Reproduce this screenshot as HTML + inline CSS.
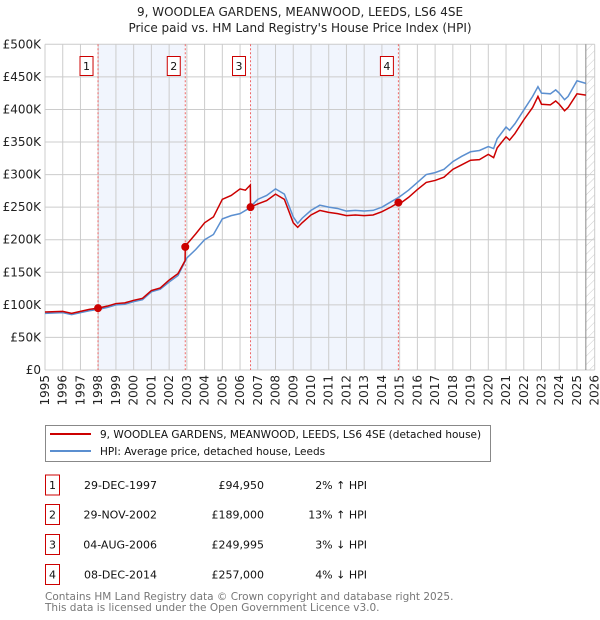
<!DOCTYPE html>
<html><head><meta charset="utf-8"><style>
body{margin:0;background:#fff;width:600px;height:620px;overflow:hidden}
svg{display:block;font-family:"DejaVu Sans","Liberation Sans",sans-serif}
</style></head><body>
<svg id="chart" width="600" height="620" xmlns="http://www.w3.org/2000/svg">
<defs><pattern id="hatch" width="6" height="6" patternUnits="userSpaceOnUse" patternTransform="rotate(45)"><line x1="0" y1="0" x2="0" y2="6" stroke="#ccc" stroke-width="1"/></pattern></defs>
<text x="300" y="16" text-anchor="middle" font-size="12" fill="#222">9, WOODLEA GARDENS, MEANWOOD, LEEDS, LS6 4SE</text>
<text x="300" y="32" text-anchor="middle" font-size="12" fill="#222">Price paid vs. HM Land Registry's House Price Index (HPI)</text>
<g id="plot"></g>
<g>
<rect x="45.5" y="425.5" width="445" height="36" fill="#fff" stroke="#888"/>
<line x1="50" y1="434" x2="91" y2="434" stroke="#cc0000" stroke-width="2"/>
<text x="100" y="438" font-size="10.5" fill="#111">9, WOODLEA GARDENS, MEANWOOD, LEEDS, LS6 4SE (detached house)</text>
<line x1="50" y1="451" x2="91" y2="451" stroke="#5b8fd0" stroke-width="2"/>
<text x="100" y="455" font-size="10.5" fill="#111">HPI: Average price, detached house, Leeds</text>
</g>
<g id="table" font-size="11" fill="#111"></g>
<text x="45" y="600" font-size="10.5" fill="#777">Contains HM Land Registry data © Crown copyright and database right 2025.</text>
<text x="45" y="611" font-size="10.5" fill="#777">This data is licensed under the Open Government Licence v3.0.</text>
</svg>
<script>
const hpiDates=[1995,1996,1996.5,1997,1997.5,1998,1998.5,1999,1999.5,2000,2000.5,2001,2001.5,2002,2002.5,2003,2003.5,2004,2004.5,2005,2005.5,2006,2006.5,2007,2007.5,2008,2008.5,2009,2009.25,2009.5,2010,2010.5,2011,2011.5,2012,2012.5,2013,2013.5,2014,2014.5,2015,2015.5,2016,2016.5,2017,2017.5,2018,2018.5,2019,2019.5,2020,2020.3,2020.5,2021,2021.2,2021.5,2022,2022.5,2022.8,2023,2023.5,2023.8,2024,2024.3,2024.5,2025,2025.5];
const hpiValues=[87,88,85,88,91,93,96,100,101,105,108,120,124,135,145,172,185,200,208,232,237,240,248,262,268,278,270,235,225,233,245,253,250,248,244,245,244,245,250,258,266,276,288,300,303,308,320,328,335,337,343,340,355,373,368,378,399,420,435,425,424,430,425,415,420,444,440];
const ppDates=[1995,1996,1996.5,1997,1997.5,1998,1998.5,1999,1999.5,2000,2000.5,2001,2001.5,2002,2002.5,2002.9,2002.91,2003,2003.5,2004,2004.5,2005,2005.5,2006,2006.3,2006.58,2006.59,2007,2007.5,2008,2008.5,2009,2009.25,2009.5,2010,2010.5,2011,2011.5,2012,2012.5,2013,2013.5,2014,2014.5,2014.93,2015,2015.5,2016,2016.5,2017,2017.5,2018,2018.5,2019,2019.5,2020,2020.3,2020.5,2021,2021.2,2021.5,2022,2022.5,2022.8,2023,2023.5,2023.8,2024,2024.3,2024.5,2025,2025.5];
const ppValues=[89,90,87,90,93,95,98,102,103,107,110,122,126,138,148,168,189,193,209,226,235,262,268,278,276,284,250,255,260,270,262,226,219,226,238,245,242,240,237,238,237,238,243,250,257,255,265,277,288,291,296,308,315,322,323,331,326,341,358,353,363,384,403,420,408,407,413,408,398,403,424,422];
const saleLabels=["1","2","3","4"];
const saleDates=[1997.99,2002.91,2006.59,2014.93];
const salePrices=[94950,189000,249995,257000];
const saleDateText=["29-DEC-1997","29-NOV-2002","04-AUG-2006","08-DEC-2014"];
const salePriceText=["£94,950","£189,000","£249,995","£257,000"];
const saleDiffText=["2% ↑ HPI","13% ↑ HPI","3% ↓ HPI","4% ↓ HPI"];
const yTicks=[0,50,100,150,200,250,300,350,400,450,500];
const yTickLabels=["£0","£50K","£100K","£150K","£200K","£250K","£300K","£350K","£400K","£450K","£500K"];
const xYears=[];for(let y=1995;y<=2026;y++)xYears.push(y);

const X0=45,X1=594.7,Y0=370,Y1=44.3;
const xs=t=>X0+(t-1995)/31*(X1-X0);
const ys=v=>Y0-v/500*(Y0-Y1);
const NS="http://www.w3.org/2000/svg";
const plot=document.getElementById('plot');
function mk(tag,attrs,parent){const e=document.createElementNS(NS,tag);for(const k in attrs)e.setAttribute(k,attrs[k]);(parent||plot).appendChild(e);return e;}

for(let i=0;i<saleDates.length;i+=2){
  const end=saleDates[i+1];
  const r=mk('rect',{x:xs(saleDates[i]),y:Y1,width:xs(end)-xs(saleDates[i]),height:Y0-Y1,fill:'#eef3fd',opacity:0.8});
  
  
}
const hx=xs(2025.5);
const hr=mk('rect',{x:hx,y:Y1,width:X1-hx,height:Y0-Y1,fill:'url(#hatch)'});


yTicks.forEach((v,i)=>{
  const l=mk('line',{x1:X0,x2:X1,y1:ys(v),y2:ys(v),stroke:'#ccc','stroke-width':1});
  
  
  const t=mk('text',{x:X0-4,y:ys(v)+4,'text-anchor':'end','font-size':12,fill:'#222'});
  t.textContent=yTickLabels[i];
  
  
});
xYears.forEach(y=>{
  const l=mk('line',{x1:xs(y),x2:xs(y),y1:Y1,y2:Y0,stroke:'#ccc','stroke-width':1});
  
  
  const t=mk('text',{x:0,y:0,'text-anchor':'end','font-size':12,fill:'#222',transform:`translate(${xs(y)+4},${Y0+5}) rotate(-90)`});
  t.textContent=y;
  
  
});
const vl=mk('line',{x1:hx,x2:hx,y1:Y1,y2:Y0,stroke:'#888','stroke-width':1});


saleDates.forEach((d,i)=>{
  const l=mk('line',{x1:xs(d),x2:xs(d),y1:Y1,y2:Y0,stroke:'#e66','stroke-width':1,'stroke-dasharray':'2,2'});
  
  
  const b=mk('rect',{x:xs(d)-18,y:56.5,width:13,height:19,fill:'#fff',stroke:'#cc0000'});
  
  
  const t=mk('text',{x:xs(d)-11.5,y:70,'text-anchor':'middle','font-size':11,fill:'#111'});
  t.textContent=saleLabels[i];
  
  
});
const hp=mk('polyline',{points:hpiDates.map((d,i)=>xs(d)+','+ys(hpiValues[i])).join(' '),fill:'none',stroke:'#5b8fd0','stroke-width':1.5});


const pp=mk('polyline',{points:ppDates.map((d,i)=>xs(d)+','+ys(ppValues[i])).join(' '),fill:'none',stroke:'#cc0000','stroke-width':1.5});


saleDates.forEach((d,i)=>{
  const c=mk('circle',{cx:xs(d),cy:ys(salePrices[i]/1000),r:4,fill:'#cc0000'});
  
  
});
const tb=document.getElementById('table');
const rowY=[485,514.5,544.5,574.5];
saleLabels.forEach((s,i)=>{
  const y=rowY[i];
  const b=mk('rect',{x:45.5,y:y-10,width:14,height:20,fill:'#fff',stroke:'#cc0000'},tb);
  
  
  const a=mk('text',{x:52.5,y:y+4,'text-anchor':'middle'},tb);a.textContent=s;
  
  
  const d=mk('text',{x:157,y:y+4,'text-anchor':'end'},tb);d.textContent=saleDateText[i];
  
  
  const p=mk('text',{x:264,y:y+4,'text-anchor':'end'},tb);p.textContent=salePriceText[i];
  
  
  const h=mk('text',{x:367,y:y+4,'text-anchor':'end'},tb);h.textContent=saleDiffText[i];
  
  
});
</script>
</body></html>
